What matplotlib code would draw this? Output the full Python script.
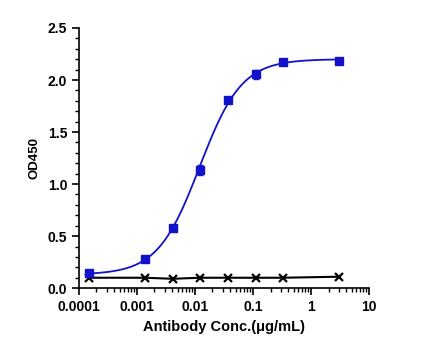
import numpy as np
import matplotlib
matplotlib.use("Agg")
import matplotlib.pyplot as plt
from matplotlib.ticker import FixedLocator, FixedFormatter, LogLocator, MultipleLocator, NullFormatter

plt.rcParams['font.family'] = ['Liberation Sans', 'DejaVu Sans']
plt.rcParams['font.weight'] = 'bold'

conc = [0.000152, 0.00137, 0.00412, 0.0123, 0.037, 0.111, 0.333, 3.0]
od_sample = [0.144, 0.276, 0.580, 1.135, 1.81, 2.055, 2.17, 2.185]
err_sample = [0.01, 0.015, 0.015, 0.05, 0.02, 0.045, 0.015, 0.01]
od_control = [0.10, 0.10, 0.09, 0.10, 0.10, 0.10, 0.10, 0.11]

# 4PL fit parameters for the sample curve
fit_bottom, fit_top, fit_ec50, fit_hill = 0.13, 2.20, 0.012, 1.2

xtick_vals = [0.0001, 0.001, 0.01, 0.1, 1, 10]
xtick_labels = ['0.0001', '0.001', '0.01', '0.1', '1', '10']
ytick_vals = [0.0, 0.5, 1.0, 1.5, 2.0, 2.5]

fig = plt.figure(figsize=(4.41, 3.54), dpi=100)
ax = fig.add_axes([0.179, 0.186, 0.658, 0.735])

xs = np.logspace(np.log10(conc[0]), np.log10(conc[-1]), 300)
ys = fit_bottom + (fit_top - fit_bottom) / (1 + (fit_ec50 / xs) ** fit_hill)
ax.plot(xs, ys, color='#1212C8', lw=1.3, zorder=2)
ax.errorbar(conc, od_sample, yerr=err_sample, fmt='s', color='#1212C8', ms=6,
            capsize=2, elinewidth=1, capthick=1, zorder=3)

ax.plot(conc, od_control, color='black', lw=1.5, marker='x', ms=6, mew=1.6, zorder=3)

ax.set_xscale('log')
ax.set_xlim(0.0001, 10)
ax.set_ylim(0, 2.5)
ax.xaxis.set_major_locator(FixedLocator(xtick_vals))
ax.xaxis.set_major_formatter(FixedFormatter(xtick_labels))
ax.xaxis.set_minor_locator(LogLocator(base=10, subs=np.arange(2, 10), numticks=20))
ax.xaxis.set_minor_formatter(NullFormatter())
ax.yaxis.set_major_locator(FixedLocator(ytick_vals))
ax.yaxis.set_minor_locator(MultipleLocator(0.1))
ax.set_yticklabels([f'{v:.1f}' for v in ytick_vals])

for s in ['top', 'right']:
    ax.spines[s].set_visible(False)
for s in ['left', 'bottom']:
    ax.spines[s].set_linewidth(1.2)
ax.tick_params(which='major', direction='out', length=5, width=1.2, labelsize=10)
ax.tick_params(which='minor', direction='out', length=3, width=1.0)

ax.set_xlabel('Antibody Conc.(μg/mL)', fontsize=10.5, fontweight='bold', labelpad=4)
ax.set_ylabel('OD450', fontsize=9.5, fontweight='bold', labelpad=5)

fig.savefig('out.png', dpi=100)
